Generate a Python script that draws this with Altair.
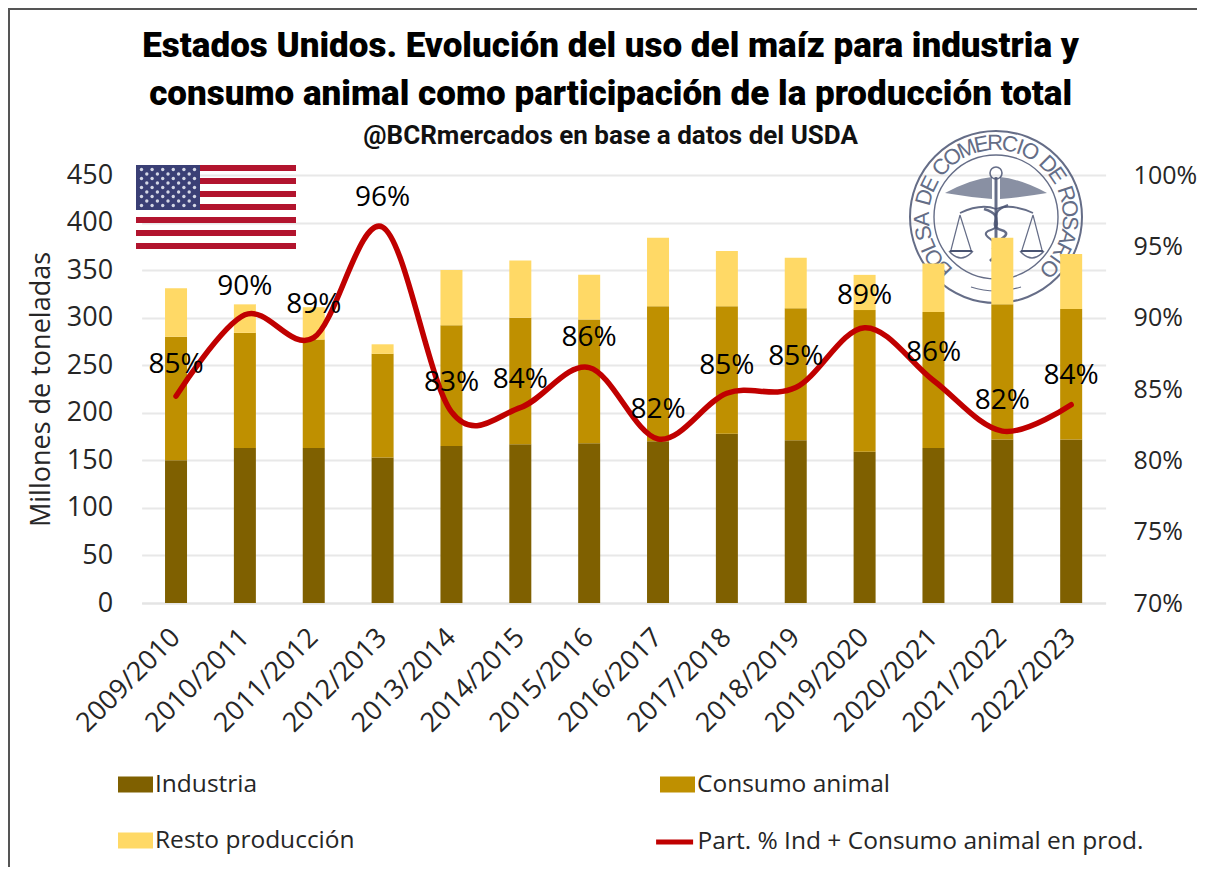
import base64
import math
import altair as alt
import pandas as pd

campanas = ["2009/2010","2010/2011","2011/2012","2012/2013","2013/2014","2014/2015","2015/2016",
            "2016/2017","2017/2018","2018/2019","2019/2020","2020/2021","2021/2022","2022/2023"]
industria = [150,163,163,153,165,167,168,170,178,171,159,163,172,172]
consumo = [130,121,114,109,127,133,130,142,134,139,149,143,142,137]
resto = [51,30,34,10,58,60,47,72,58,53,37,51,70,58]
participacion = [.845,.902,.886,.9635,.834,.837,.865,.815,.847,.851,.893,.856,.8205,.839]
etiquetas = ["85%","90%","89%","96%","83%","84%","86%","82%","85%","85%","89%","86%","82%","84%"]
etiqueta_pos = [.8668,.9214,.9088,.9838,.8542,.8563,.8857,.8352,.8661,.8724,.9151,.8752,.8416,.8591]
series = ["Industria", "Consumo animal", "Resto producción"]
colores = ["#7F6000", "#BF9000", "#FFD966"]
linea_nombre = "Part. % Ind + Consumo animal en prod."
sello = "BOLSA DE COMERCIO DE ROSARIO"

FONT = "Open Sans"
INK = "#262626"
W, H = 964, 428
PAD = dict(left=133.6, top=167, right=91.4, bottom=264)

rows = []
for i, c in enumerate(campanas):
    for j, (s, vals) in enumerate(zip(series, [industria, consumo, resto])):
        rows.append(dict(campana=c, serie=s, valor=vals[i], orden=j))
bars_df = pd.DataFrame(rows)
line_df = pd.DataFrame(dict(campana=campanas, part=participacion, serie=linea_nombre,
                            etq=etiquetas, pos=etiqueta_pos))
one = pd.DataFrame({"a": [0]})

x_scale = alt.Scale(type="band", domain=campanas, paddingInner=0.68, paddingOuter=0.34)

bars = alt.Chart(bars_df).mark_bar(size=22).encode(
    x=alt.X("campana:N", sort=campanas, title=None, scale=x_scale,
            axis=alt.Axis(labelAngle=-45, labelAlign="right", labelBaseline="middle",
                          labelFont=FONT, labelFontSize=27, labelColor=INK, labelPadding=30,
                          ticks=False, domainColor="#E4E4E4", domainWidth=2, grid=False,
                          labelOverlap=False)),
    y=alt.Y("sum(valor):Q", stack="zero", scale=alt.Scale(domain=[0, 450], nice=False),
            title="Millones de toneladas",
            axis=alt.Axis(values=list(range(0, 451, 50)), labelFont=FONT, labelFontSize=27,
                          labelColor=INK, labelPadding=29, ticks=False, domain=False,
                          gridColor="#E8E8E8", gridWidth=2, titleFont=FONT, titleFontSize=27,
                          titleFontWeight="normal", titleColor=INK, titlePadding=11)),
    color=alt.Color("serie:N", scale=alt.Scale(domain=series, range=colores), title=None,
                    legend=alt.Legend(orient="none", legendX=-23.6, legendY=592, columns=2,
                                      direction="horizontal", symbolType="M-1,-0.46H1V0.46H-1Z",
                                      symbolSize=1225, symbolStrokeWidth=0, labelFont=FONT,
                                      labelFontSize=24.5, labelColor=INK, labelOffset=2,
                                      columnPadding=305, rowPadding=27, labelLimit=500)),
    order=alt.Order("orden:Q", sort="ascending"),
)

# bandera
flag_svg = ['<svg xmlns="http://www.w3.org/2000/svg" width="160" height="84" viewBox="0 0 160 84">']
for k in range(7):
    flag_svg.append(f'<rect x="0" y="{k*13}" width="160" height="6" fill="#B2142E"/>')
flag_svg.append('<rect x="0" y="0" width="64" height="45" fill="#3A3F75"/>')
for r in range(9):
    n = 6 if r % 2 == 0 else 5
    for c in range(n):
        cx = 5.5 + c * 10.6 + (0 if r % 2 == 0 else 5.3)
        flag_svg.append(f'<circle cx="{cx:.1f}" cy="{4.5 + r*4.5:.1f}" r="1.7" fill="#D5D8E6"/>')
flag_svg.append('</svg>')
flag_url = "data:image/svg+xml;base64," + base64.b64encode("".join(flag_svg).encode()).decode()
flag = alt.Chart(one).mark_image(url=flag_url, width=160, height=84, align="left", baseline="top").encode(
    x=alt.value(-5.6), y=alt.value(-10))

# sello
C = "#4A5472"
logo_svg = f'''<svg xmlns="http://www.w3.org/2000/svg" width="180" height="180" viewBox="-90 -90 180 180">
<g fill="none" stroke="{C}" stroke-opacity="0.85">
<circle r="86" stroke-width="2"/><circle r="62" stroke-width="1.4"/>
<path d="M-25 70 Q0 78 25 70" stroke-width="1.2"/>
<path d="M0 -40 V42" stroke-width="3"/><circle cx="0" cy="-44" r="6" stroke-width="1.6"/>
<path d="M-36 -4 Q-15 -14 0 -8 Q15 -14 37 -4" stroke-width="1.8"/>
<path d="M-36 -2 L-45 33 M-36 -2 L-25 33 M37 -2 L26 33 M37 -2 L46 33" stroke-width="1.2"/>
<path d="M-47 34 Q-35 48 -23 34 M24 34 Q36 48 48 34" stroke-width="1.4"/>
<path d="M-12 -8 C14 0 -14 8 8 14 C18 20 -12 26 4 34 L-6 44" stroke-width="2.6"/>
<path d="M12 -12 C-14 -2 14 8 -8 14 C-18 20 10 26 -4 32" stroke-width="2"/>
</g>
<path d="M-51 -24 Q-25 -38 -4 -40 V-18 Q-28 -20 -51 -24Z M51 -24 Q25 -38 4 -40 V-18 Q28 -20 51 -24Z" fill="{C}" fill-opacity="0.65"/>
<path d="M-46 33 H-24 V35 H-46Z M25 33 H47 V35 H25Z" fill="{C}"/>
</svg>'''
logo_url = "data:image/svg+xml;base64," + base64.b64encode(logo_svg.encode()).decode()
logo = alt.Chart(one).mark_image(url=logo_url, width=180, height=180, align="left", baseline="top").encode(
    x=alt.value(764.4), y=alt.value(-48))

cx, cy, rr = 854.4, 42.0, 74.0
anchos = {" ": 0.45, "I": 0.45, "M": 1.15, "O": 1.0, "C": 0.95, "R": 0.95, "S": 0.9, "D": 1.0,
          "B": 0.9, "L": 0.8, "A": 0.95, "E": 0.85, "N": 1.0}
pesos = [anchos[ch] for ch in sello]
total = sum(pesos)
let, acum = [], 0.0
for ch, p in zip(sello, pesos):
    a = -140 + 280 * (acum + p / 2) / total
    acum += p
    t = math.radians(a)
    let.append(dict(ch=ch, px=cx + rr * math.sin(t), py=cy - rr * math.cos(t), ang=a % 360))
letters = alt.Chart(pd.DataFrame(let)).mark_text(font="Liberation Sans", fontSize=22, color=C,
                                                 opacity=0.85, align="center", baseline="middle").encode(
    x=alt.X("px:Q", scale=None, axis=None), y=alt.Y("py:Q", scale=None, axis=None),
    angle=alt.Angle("ang:Q", scale=None), text="ch:N")

y_right = alt.Scale(domain=[.70, 1.0], nice=False)
line = alt.Chart(line_df).mark_line(strokeWidth=5.5, interpolate="cardinal", strokeCap="round").encode(
    x=alt.X("campana:N", sort=campanas, scale=x_scale, axis=None),
    y=alt.Y("part:Q", scale=y_right, title=None,
            axis=alt.Axis(orient="right", values=[.70,.75,.80,.85,.90,.95,1.0], format=".0%",
                          labelFont=FONT, labelFontSize=25, labelColor=INK, labelPadding=27.5,
                          ticks=False, domain=False, grid=False)),
    stroke=alt.Stroke("serie:N", scale=alt.Scale(domain=[linea_nombre], range=["#C00000"]), title=None,
                      legend=alt.Legend(orient="none", legendX=512, legendY=646, symbolType="stroke",
                                        symbolSize=1369, symbolStrokeWidth=5, labelFont=FONT,
                                        labelFontSize=24.5, labelColor=INK, labelOffset=2, labelLimit=600)),
)
labels = alt.Chart(line_df).mark_text(font=FONT, fontSize=28, color="#000000", align="center",
                                      baseline="middle").encode(
    x=alt.X("campana:N", sort=campanas, scale=x_scale, axis=None),
    y=alt.Y("pos:Q", scale=y_right, axis=None),
    text="etq:N",
)

edge_top = alt.Chart(one).mark_rule(color="#555555", strokeWidth=2).encode(
    x=alt.value(-133.6), x2=alt.value(1055.4), y=alt.value(-166))
edge_left = alt.Chart(one).mark_rule(color="#555555", strokeWidth=2).encode(
    x=alt.value(-132.6), y=alt.value(-167), y2=alt.value(692))

chart = alt.layer(logo, letters, bars, flag, line, labels, edge_top, edge_left).resolve_scale(
    x="independent", y="independent"
).properties(
    width=W, height=H,
    padding=PAD,
    autosize=alt.AutoSizeParams(type="none"),
    title=alt.TitleParams(
        text=["Estados Unidos. Evolución del uso del maíz para industria y",
              "consumo animal como participación de la producción total"],
        subtitle="@BCRmercados en base a datos del USDA",
        font="Roboto", fontSize=35, fontWeight=900, lineHeight=48, color="#000000",
        subtitleFont="Roboto", subtitleFontSize=26, subtitleFontWeight=700,
        subtitleColor="#111111", subtitlePadding=11,
        anchor="middle", dx=-13, offset=-142, frame="group"),
).configure_view(stroke=None)

chart.save("out.html", embed_options={"renderer": "svg", "actions": False})
